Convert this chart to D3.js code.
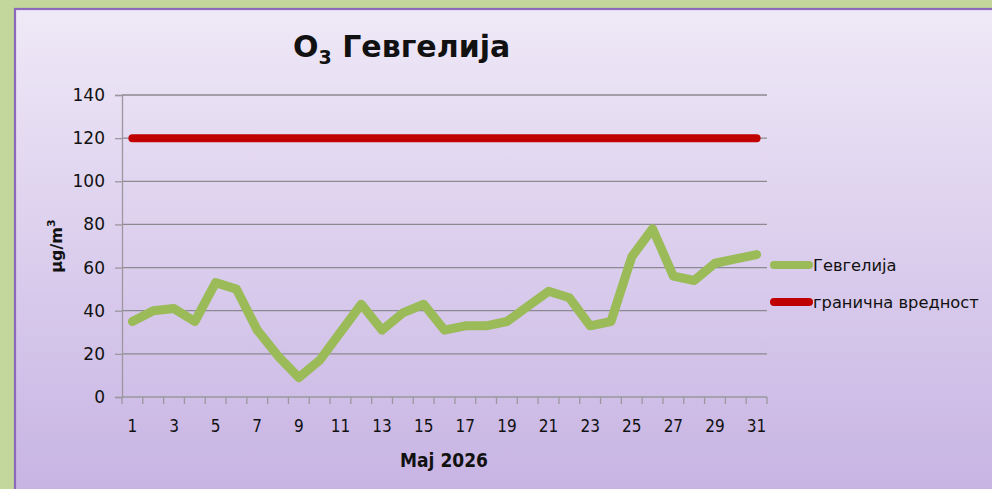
<!DOCTYPE html>
<html>
<head>
<meta charset="utf-8">
<script src="https://cdn.jsdelivr.net/npm/d3@7/dist/d3.min.js"></script>
<style>
  html, body { margin: 0; padding: 0; background: #c3d69b; }
  svg { display: block; }
</style>
</head>
<body>
<svg id="chart" width="992" height="489"></svg>
<script>
// Daily O3 concentrations, Gevgelija, May 2026 (µg/m³)
const days = d3.range(1, 32);
const gevgelija = [35, 40, 41, 35, 53, 50, 31, 19, 9, 17, 30, 43, 31, 39, 43, 31, 33, 33, 35, 42, 49, 46, 33, 35, 65, 78, 56, 54, 62, 64, 66];
const limitValue = [120, 120, 120, 120, 120, 120, 120, 120, 120, 120, 120, 120, 120, 120, 120, 120, 120, 120, 120, 120, 120, 120, 120, 120, 120, 120, 120, 120, 120, 120, 120];
const yTicks = [0, 20, 40, 60, 80, 100, 120, 140];
const xTickLabels = days.filter(d => d % 2 === 1);
const seriesNames = ["Гевгелија", "гранична вредност"];
const seriesColors = ["#9bbb59", "#c00000"];

const svg = d3.select("#chart");
const W = 992, H = 489;

// panel with vertical gradient
const defs = svg.append("defs");
const grad = defs.append("linearGradient").attr("id", "bg").attr("x1", 0).attr("y1", 0).attr("x2", 0).attr("y2", 1);
grad.append("stop").attr("offset", "0%").attr("stop-color", "#efe9f7");
grad.append("stop").attr("offset", "100%").attr("stop-color", "#c7b3e3");

svg.append("rect").attr("x", 0).attr("y", 0).attr("width", W).attr("height", H).attr("fill", "#c3d69b");
svg.append("rect").attr("x", 15).attr("y", 9).attr("width", W).attr("height", H)
  .attr("fill", "url(#bg)").attr("stroke", "#8c68bd").attr("stroke-width", 2.2);

const plot = { left: 122, right: 767, top: 95, bottom: 397 };

const x = d3.scaleBand().domain(days).range([plot.left, plot.right]).paddingInner(0).paddingOuter(0);
const y = d3.scaleLinear().domain([0, 140]).range([plot.bottom, plot.top]);
const cx = d => x(d) + x.bandwidth() / 2;

// gridlines
svg.append("g").selectAll("line").data(yTicks.filter(t => t > 0)).join("line")
  .attr("x1", plot.left).attr("x2", plot.right)
  .attr("y1", d => y(d)).attr("y2", d => y(d))
  .attr("stroke", "#8c8a90").attr("stroke-width", 1.3);

// y axis
const yAxis = svg.append("g").attr("transform", `translate(${plot.left},0)`)
  .call(d3.axisLeft(y).tickValues(yTicks).tickSize(7).tickPadding(10));
yAxis.select(".domain").attr("stroke", "#9a989e").attr("stroke-width", 1.3);
yAxis.selectAll(".tick line").attr("stroke", "#9a989e").attr("stroke-width", 1.3);
yAxis.selectAll("text").attr("font-family", "DejaVu Sans, sans-serif").attr("font-size", 17).attr("fill", "#111");

// x axis: ticks between categories
const xAxisG = svg.append("g").attr("transform", `translate(0,${plot.bottom})`);
xAxisG.append("line").attr("x1", plot.left).attr("x2", plot.right).attr("y1", 0).attr("y2", 0)
  .attr("stroke", "#9a989e").attr("stroke-width", 1.3);
const boundaries = days.map(d => x(d)).concat([plot.right]);
xAxisG.selectAll("line.tk").data(boundaries).join("line").attr("class", "tk")
  .attr("x1", d => d).attr("x2", d => d).attr("y1", 0).attr("y2", 7)
  .attr("stroke", "#9a989e").attr("stroke-width", 1.3);
xAxisG.selectAll("text").data(xTickLabels).join("text")
  .attr("x", d => cx(d)).attr("y", 35)
  .attr("text-anchor", "middle")
  .attr("font-family", "DejaVu Sans Condensed, DejaVu Sans, sans-serif").attr("font-size", 17)
  .attr("fill", "#111").text(d => d);

// lines
const line = d3.line().x((v, i) => cx(days[i])).y(v => y(v));
svg.append("path").datum(limitValue).attr("d", line)
  .attr("fill", "none").attr("stroke", seriesColors[1]).attr("stroke-width", 8)
  .attr("stroke-linecap", "round").attr("stroke-linejoin", "round");
svg.append("path").datum(gevgelija).attr("d", line)
  .attr("fill", "none").attr("stroke", seriesColors[0]).attr("stroke-width", 9)
  .attr("stroke-linecap", "round").attr("stroke-linejoin", "round");

// title
const title = svg.append("text").attr("x", 293).attr("y", 57)
  .attr("font-family", "DejaVu Sans, sans-serif").attr("font-weight", "bold")
  .attr("font-size", 30).attr("fill", "#111");
title.append("tspan").text("O");
title.append("tspan").attr("font-size", 19).attr("dy", 7).text("3");
title.append("tspan").attr("dy", -7).text(" Гевгелија");

// axis titles
svg.append("text").attr("transform", "translate(62,246) rotate(-90)")
  .attr("text-anchor", "middle")
  .attr("font-family", "DejaVu Sans, sans-serif").attr("font-weight", "bold").attr("font-size", 16).attr("fill", "#111")
  .call(t => { t.append("tspan").text("µg/m"); t.append("tspan").attr("font-size", 11).attr("dy", -7).text("3"); });

svg.append("text").attr("x", 444).attr("y", 467).attr("text-anchor", "middle")
  .attr("font-family", "DejaVu Sans Condensed, DejaVu Sans, sans-serif").attr("font-weight", "bold")
  .attr("font-size", 19).attr("fill", "#111").text("Maj 2026");

// legend
const legend = svg.append("g");
const legendY = [265, 302];
seriesNames.forEach((name, i) => {
  legend.append("line").attr("x1", 774).attr("x2", 809).attr("y1", legendY[i]).attr("y2", legendY[i])
    .attr("stroke", seriesColors[i]).attr("stroke-width", 8).attr("stroke-linecap", "round");
  legend.append("text").attr("x", 813).attr("y", legendY[i] + 6)
    .attr("font-family", "DejaVu Sans, sans-serif").attr("font-size", 16.3).attr("fill", "#111").text(name);
});
</script>
</body>
</html>
